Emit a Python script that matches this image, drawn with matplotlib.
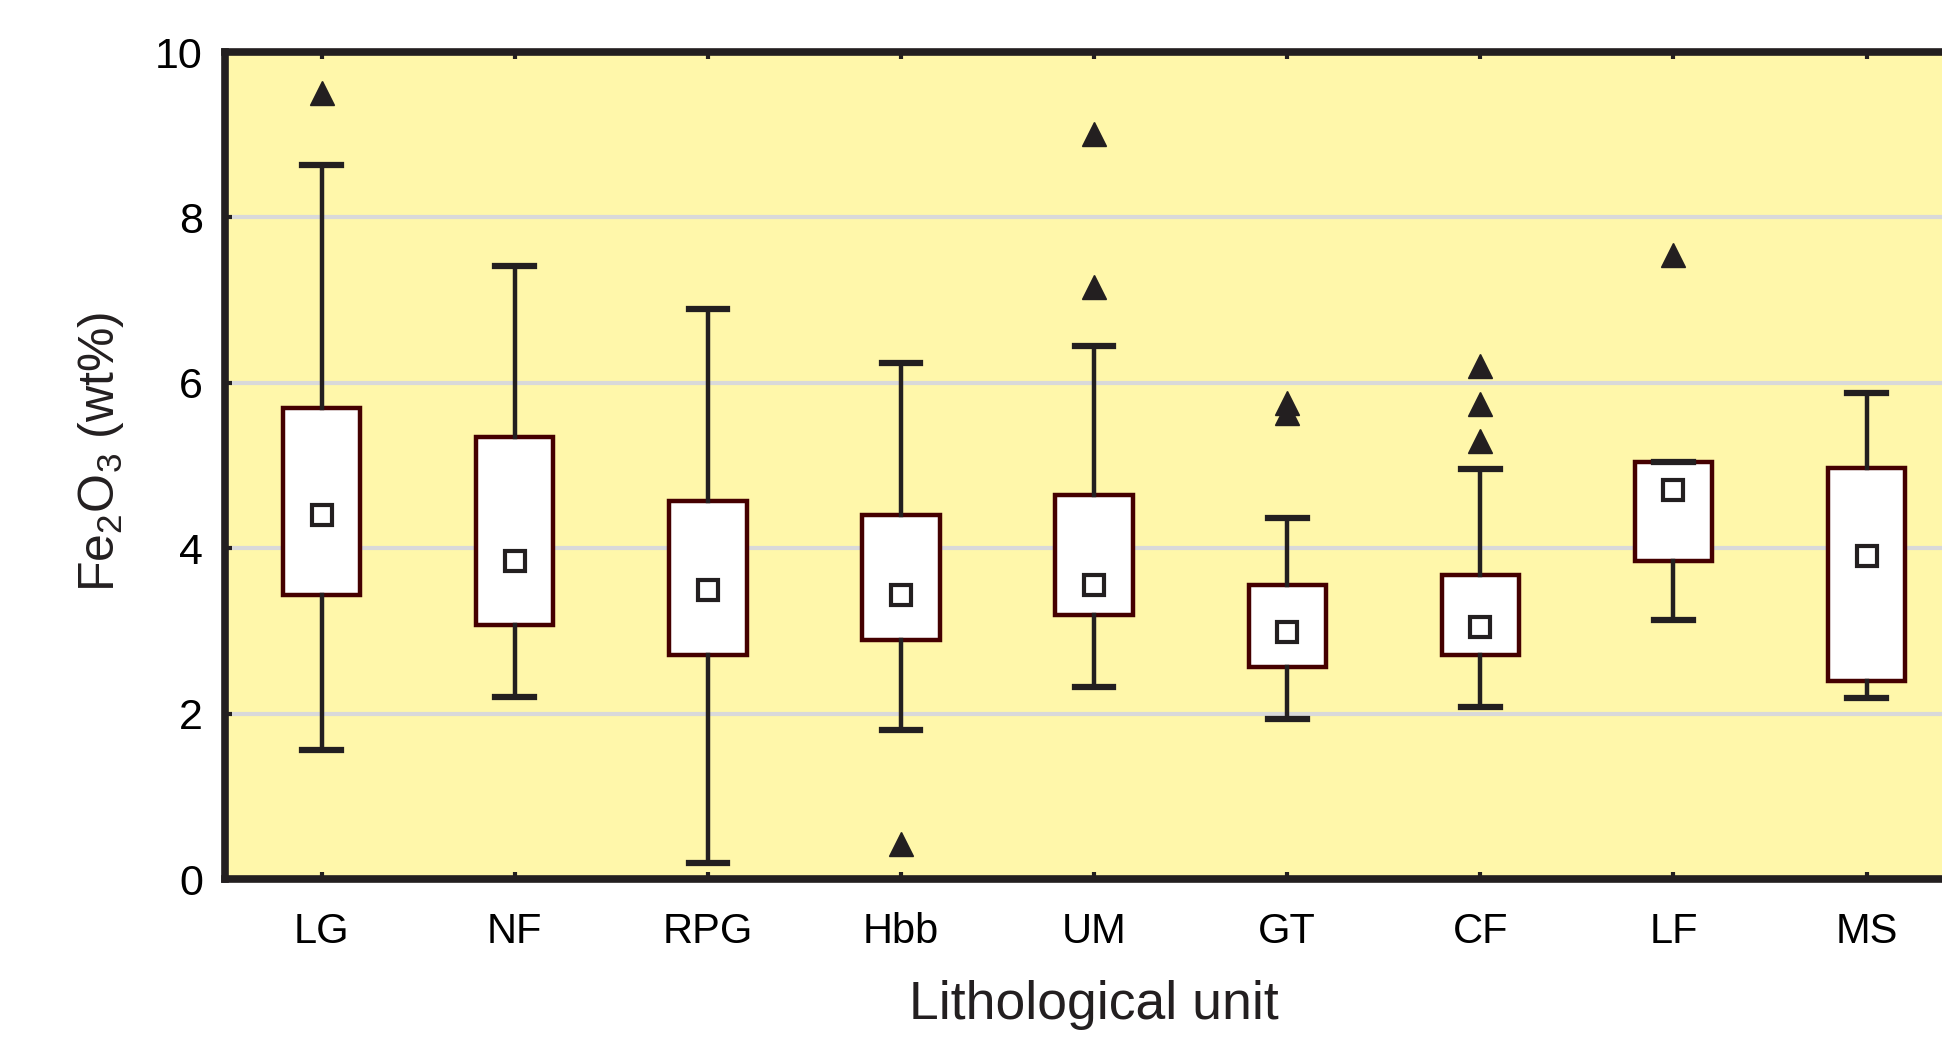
import matplotlib.pyplot as plt
import numpy as np

plt.rcParams['font.family'] = ['Liberation Sans', 'DejaVu Sans']
plt.rcParams['mathtext.default'] = 'regular'

units = ['LG', 'NF', 'RPG', 'Hbb', 'UM', 'GT', 'CF', 'LF', 'MS']
whis_lo = [1.56, 2.20, 0.19, 1.80, 2.32, 1.93, 2.08, 3.13, 2.19]
q1 = [3.44, 3.07, 2.71, 2.89, 3.19, 2.57, 2.71, 3.85, 2.40]
mean = [4.40, 3.85, 3.49, 3.44, 3.55, 2.99, 3.05, 4.70, 3.91]
q3 = [5.69, 5.34, 4.57, 4.40, 4.64, 3.56, 3.68, 5.04, 4.97]
whis_hi = [8.64, 7.41, 6.89, 6.24, 6.44, 4.37, 4.96, 5.04, 5.88]
outliers = [[9.50], [], [], [0.42], [9.01, 7.16], [5.76, 5.64],
            [6.20, 5.75, 5.30], [7.54], []]

stats = []
for i in range(len(units)):
    stats.append({'label': units[i], 'whislo': whis_lo[i], 'q1': q1[i],
                  'med': mean[i], 'q3': q3[i], 'whishi': whis_hi[i],
                  'mean': mean[i], 'fliers': outliers[i]})

fig = plt.figure(figsize=(19.42, 10.43), dpi=100)
ax = fig.add_axes([0.1159, 0.1572, 0.895, 0.7929])
ax.set_facecolor('#fff7aa')

ax.bxp(stats, positions=np.arange(1, 10), widths=0.40, patch_artist=True,
       showmeans=True,
       boxprops=dict(facecolor='white', edgecolor='#450000', linewidth=3.2),
       whiskerprops=dict(color='#231f20', linewidth=3.2),
       capprops=dict(color='#231f20', linewidth=4.5),
       capwidths=0.20,
       medianprops=dict(linewidth=0),
       meanprops=dict(marker='s', markersize=15, markerfacecolor='white',
                      markeredgecolor='#231f20', markeredgewidth=3.0),
       flierprops=dict(marker='^', markersize=17, markerfacecolor='#231f20',
                       markeredgecolor='#231f20', linestyle='none'))

ax.set_xlim(0.5, 9.5)
ax.set_ylim(0, 10)
ax.set_yticks([0, 2, 4, 6, 8, 10])
ax.yaxis.grid(True, color='#d9d9d9', linewidth=3)
ax.set_axisbelow(True)

for s in ax.spines.values():
    s.set_linewidth(5.5)
    s.set_color('#231f20')

ax.tick_params(axis='both', direction='in', length=5, width=3, color='#231f20',
               top=True, right=True)
ax.tick_params(axis='y', labelsize=31, pad=16)
ax.tick_params(axis='x', labelsize=30, pad=24)

ax.set_ylabel('Fe$_2$O$_3$ (wt%)', fontsize=36, labelpad=22, color='#231f20')
ax.yaxis.set_label_coords(-0.057, 0.516)
ax.set_xlabel('Lithological unit', fontsize=38.5, labelpad=20, color='#231f20')

fig.savefig('out.png', dpi=100)
